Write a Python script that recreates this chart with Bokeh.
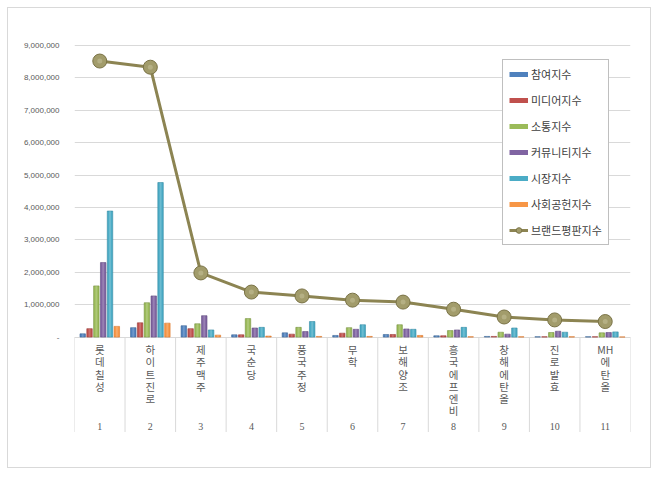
from bokeh.plotting import figure
from bokeh.models import FixedTicker, NumeralTickFormatter, Legend, LegendItem
from bokeh.core.properties import value
from bokeh.embed import file_html
from bokeh.resources import INLINE

companies = ["롯데칠성", "하이트진로", "제주맥주", "국순당", "풍국주정", "무학",
             "보해양조", "흥국에프엔비", "창해에탄올", "진로발효", "MH에탄올"]
ranks = [str(i) for i in range(1, 12)]

participation = [100000, 290000, 350000, 70000, 130000, 50000, 80000, 40000, 20000, 10000, 10000]
media = [260000, 440000, 260000, 70000, 90000, 120000, 80000, 40000, 20000, 10000, 10000]
communication = [1580000, 1060000, 410000, 570000, 300000, 290000, 380000, 200000, 150000, 140000, 130000]
community = [2300000, 1270000, 660000, 280000, 170000, 240000, 250000, 220000, 90000, 180000, 140000]
market = [3890000, 4770000, 220000, 300000, 480000, 380000, 240000, 300000, 280000, 150000, 160000]
social = [330000, 430000, 60000, 30000, 20000, 20000, 50000, 10000, 10000, 10000, 5000]
brand = [8520000, 8330000, 1980000, 1390000, 1270000, 1140000, 1080000, 860000, 620000, 530000, 480000]

series_names = ["참여지수", "미디어지수", "소통지수", "커뮤니티지수", "시장지수", "사회공헌지수"]
series_values = [participation, media, communication, community, market, social]
series_colors = ["#4F81BD", "#C0504D", "#9BBB59", "#8064A2", "#4BACC6", "#F79646"]
series_edges = ["#3A6496", "#9A3B38", "#76913F", "#5F4A7D", "#338AA3", "#D8762A"]
brand_name = "브랜드평판지수"
y_ticks = [i * 1000000 for i in range(0, 10)]

KR = "Noto Sans CJK KR"
x = list(range(1, len(companies) + 1))
NAN = float("nan")

p = figure(width=644, height=461, x_range=(0.5, 11.5), y_range=(-3192000, 9154000),
           output_backend="svg", toolbar_location=None,
           min_border_left=66, min_border_right=22, min_border_top=32, min_border_bottom=29)
p.styles = {"border": "1px solid #d9d9d9", "margin-left": "7px", "margin-top": "7px"}
p.outline_line_color = None
p.xaxis.visible = False
p.xgrid.visible = False
p.ygrid.ticker = FixedTicker(ticks=y_ticks)
p.ygrid.grid_line_color = "#d9d9d9"
p.ygrid.grid_line_width = 1

ya = p.yaxis[0]
ya.ticker = FixedTicker(ticks=y_ticks)
ya.formatter = NumeralTickFormatter(format="0,0")
ya.major_label_overrides = {0: "-"}
ya.axis_line_color = None
ya.major_tick_line_color = None
ya.minor_tick_line_color = None
ya.major_label_text_font = "Liberation Sans"
ya.major_label_text_font_size = "8px"
ya.major_label_text_color = "#595959"
ya.major_label_standoff = 9

# category separators
bounds = [i + 0.5 for i in range(0, len(companies) + 1)]
p.segment(x0=bounds, y0=[0] * len(bounds), x1=bounds, y1=[-2930000] * len(bounds),
          line_color="#d9d9d9", line_width=1)

# bars
step = 0.135
bw = 0.108
for i, (vals, col, edge) in enumerate(zip(series_values, series_colors, series_edges)):
    off = (i - 2.5) * step
    xs = [xx + off for xx in x]
    p.vbar(x=xs, top=vals, bottom=0, width=bw, fill_color=col, line_color=edge, line_width=0.6)
    p.vbar(x=xs, top=vals, bottom=0, width=bw * 0.35, fill_color="white", fill_alpha=0.18, line_color=None)

# brand line
p.line(x, brand, line_color="#8C8452", line_width=3)
p.scatter(x, brand, size=14, fill_color="#A29C6B", line_color="#7A7346", line_width=1)
p.scatter(x, brand, size=5, fill_color="#C8C39E", fill_alpha=0.5, line_color=None)

# category labels
labels = ["MH\n에\n탄\n올" if c.startswith("MH") else "\n".join(list(c)) for c in companies]
p.text(x=x, y=[-150000] * len(x), text=labels,
       text_align="center", text_baseline="top", text_font=value(KR),
       text_font_size="10.5px", text_line_height=0.82, text_color="#595959")
p.text(x=x, y=[-2750000] * len(x), text=ranks, text_align="center", text_baseline="middle",
       text_font=value("Liberation Serif"), text_font_size="10px", text_color="#595959")

# legend proxies
items = []
for name, col in zip(series_names, series_colors):
    r = p.line(x=[NAN], y=[NAN], line_color=col, line_width=5)
    items.append(LegendItem(label=name, renderers=[r]))
rl = p.line(x=[NAN], y=[NAN], line_color="#8C8452", line_width=3)
rs = p.scatter(x=[NAN], y=[NAN], size=8, fill_color="#A29C6B", line_color="#7A7346")
items.append(LegendItem(label=brand_name, renderers=[rl, rs]))

leg = Legend(items=items, location=(428, 195), margin=0, padding=6, spacing=10,
             glyph_width=19, glyph_height=14, label_height=14, label_standoff=3,
             label_text_font=KR, label_text_font_size="11px", label_text_color="#404040",
             border_line_color="#808080", border_line_width=1, background_fill_color="white",
             background_fill_alpha=1)
p.add_layout(leg)

open("out.html", "w").write(file_html(p, INLINE))
